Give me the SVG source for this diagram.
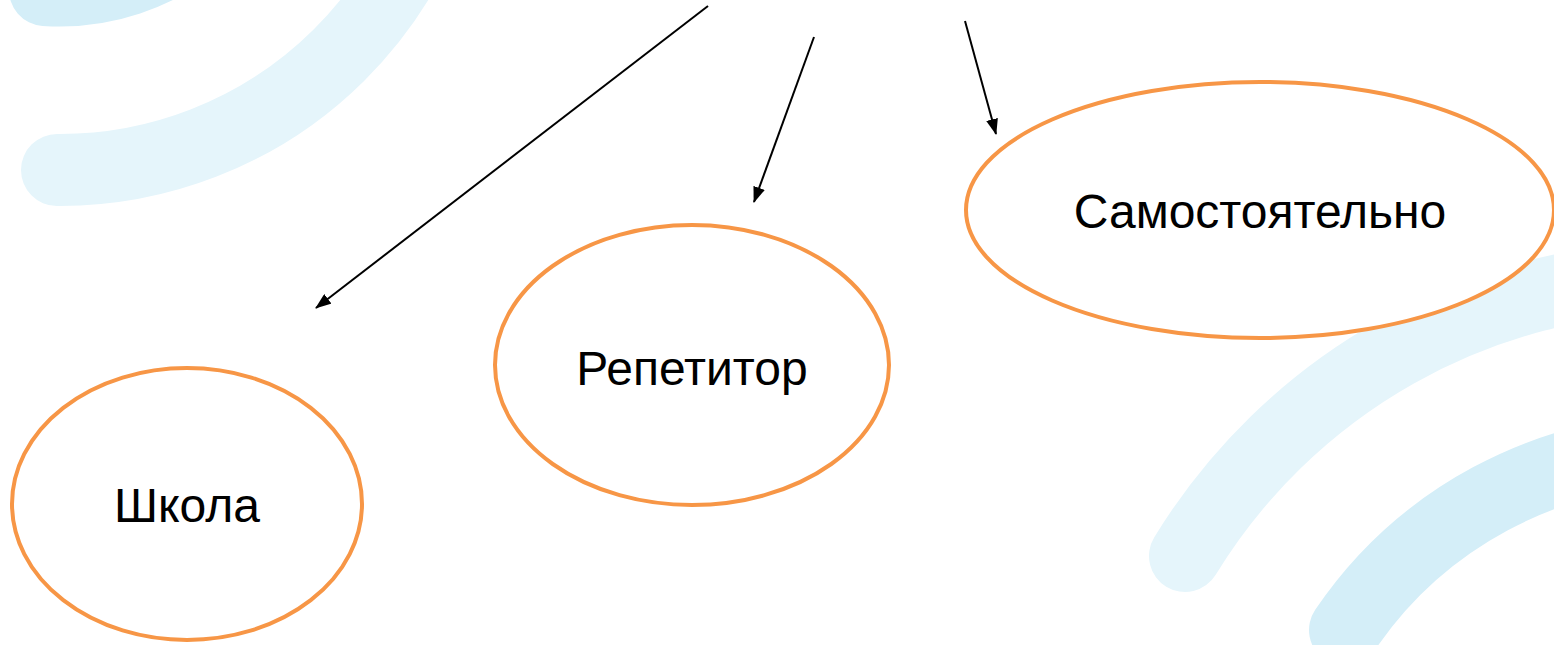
<svg xmlns="http://www.w3.org/2000/svg" width="1554" height="645" viewBox="0 0 1554 645">
<defs>
<style>
.bg1{fill:none;stroke:#d4eef8;stroke-width:72;stroke-linecap:round}
.bg2{fill:none;stroke:#e5f5fb;stroke-width:72;stroke-linecap:round}
.node ellipse{fill:#ffffff;stroke:#f79646;stroke-width:4}
.node text{font-family:"Liberation Sans",Arial,sans-serif;font-size:48px;fill:#000000;text-anchor:middle}
.conn line{stroke:#000000;stroke-width:2;marker-end:url(#ah)}
</style>
<marker id="ah" markerUnits="userSpaceOnUse" markerWidth="16" markerHeight="12" refX="15" refY="6" orient="auto">
<path d="M0,0 L16,6 L0,12 Z" fill="#000000"/>
</marker>
</defs>
<rect width="1554" height="645" fill="#ffffff"/>
<g id="background">
<path class="bg1" d="M45,-10 A217,217 0 0 0 277,-226"/>
<path class="bg2" d="M57,170 A396,396 0 0 0 456,-226"/>
<path class="bg2" d="M1185,556 A583,583 0 0 1 1680,277"/>
<path class="bg1" d="M1345,630 A410,410 0 0 1 1680,450"/>
</g>
<g id="connectors" class="conn">
<line x1="708" y1="6" x2="316" y2="308"/>
<line x1="814" y1="37" x2="754" y2="202"/>
<line x1="965" y1="21" x2="996" y2="134"/>
</g>
<g id="node-shkola" class="node">
<ellipse cx="187" cy="504" rx="175" ry="136"/>
<text x="187" y="522">Школа</text>
</g>
<g id="node-repetitor" class="node">
<ellipse cx="692" cy="365" rx="197" ry="140"/>
<text x="692" y="385">Репетитор</text>
</g>
<g id="node-samostoyatelno" class="node">
<ellipse cx="1260" cy="210" rx="294" ry="128"/>
<text x="1260" y="228">Самостоятельно</text>
</g>
</svg>
